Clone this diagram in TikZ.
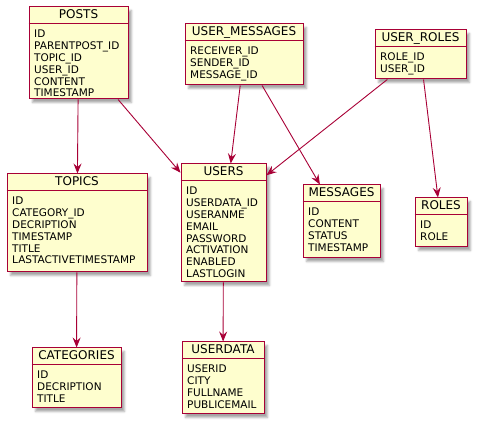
\documentclass[tikz,border=0pt]{standalone}
\usepackage{fontspec}
\setmainfont{DejaVu Sans}
\usepackage{tikz}
\usetikzlibrary{arrows.meta,shadows.blur}
\definecolor{umlred}{HTML}{A80036}
\definecolor{umlfill}{HTML}{FEFECE}
\tikzset{
    entity/.style={draw=umlred, fill=umlfill, line width=1pt, inner sep=0pt,
        blur shadow={shadow xshift=3.5pt, shadow yshift=-3.5pt, shadow blur radius=2pt, shadow opacity=35}},
    headline/.style={draw=umlred, line width=1pt},
    title/.style={anchor=base, inner sep=0pt, font=\fontsize{12}{14}\selectfont},
    fields/.style={anchor=north west, inner sep=0pt, align=left, font=\fontsize{10.5}{11.8}\selectfont},
    rel/.style={draw=umlred, line width=0.9pt, -{Stealth[length=10pt,width=8pt,inset=3.5pt]}}
}
\begin{document}
\begin{tikzpicture}[x=1pt, y=-1pt]
    \useasboundingbox (0,0) rectangle (480,427);

    % entities
    \node (posts) at (78.5,53) [entity, minimum width=99pt, minimum height=92pt]{};
    \node (usermsgs) at (244,54.5) [entity, minimum width=118pt, minimum height=61pt]{};
    \node (userroles) at (420.5,54.5) [entity, minimum width=91pt, minimum height=49pt]{};
    \node (topics) at (77,223) [entity, minimum width=140pt, minimum height=98pt]{};
    \node (users) at (223.5,223) [entity, minimum width=85pt, minimum height=118pt]{};
    \node (messages) at (341.5,221.5) [entity, minimum width=77pt, minimum height=73pt]{};
    \node (roles) at (441,222.5) [entity, minimum width=52pt, minimum height=49pt]{};
    \node (categories) at (76.5,378) [entity, minimum width=89pt, minimum height=60pt]{};
    \node (userdata) at (223,378) [entity, minimum width=82pt, minimum height=72pt]{};

    % header lines
    \draw[headline] ([yshift=-17pt]posts.north west) -- ([yshift=-17pt]posts.north east);
    \draw[headline] ([yshift=-17pt]usermsgs.north west) -- ([yshift=-17pt]usermsgs.north east);
    \draw[headline] ([yshift=-17pt]userroles.north west) -- ([yshift=-17pt]userroles.north east);
    \draw[headline] ([yshift=-17pt]topics.north west) -- ([yshift=-17pt]topics.north east);
    \draw[headline] ([yshift=-17pt]users.north west) -- ([yshift=-17pt]users.north east);
    \draw[headline] ([yshift=-17pt]messages.north west) -- ([yshift=-17pt]messages.north east);
    \draw[headline] ([yshift=-17pt]roles.north west) -- ([yshift=-17pt]roles.north east);
    \draw[headline] ([yshift=-17pt]categories.north west) -- ([yshift=-17pt]categories.north east);
    \draw[headline] ([yshift=-17pt]userdata.north west) -- ([yshift=-17pt]userdata.north east);

    % titles
    \node (poststitle) at ([yshift=-12.5pt]posts.north) [title]{POSTS};
    \node (usermsgstitle) at ([yshift=-12.5pt]usermsgs.north) [title]{USER\_MESSAGES};
    \node (userrolestitle) at ([yshift=-12.5pt]userroles.north) [title]{USER\_ROLES};
    \node (topicstitle) at ([yshift=-12.5pt]topics.north) [title]{TOPICS};
    \node (userstitle) at ([yshift=-12.5pt]users.north) [title]{USERS};
    \node (messagestitle) at ([yshift=-12.5pt]messages.north) [title]{MESSAGES};
    \node (rolestitle) at ([yshift=-12.5pt]roles.north) [title]{ROLES};
    \node (categoriestitle) at ([yshift=-12.5pt]categories.north) [title]{CATEGORIES};
    \node (userdatatitle) at ([yshift=-12.5pt]userdata.north) [title]{USERDATA};

    % fields
    \node (postsfields) at ([xshift=5.5pt,yshift=-23.5pt]posts.north west) [fields]
        {ID\\PARENTPOST\_ID\\TOPIC\_ID\\USER\_ID\\CONTENT\\TIMESTAMP};
    \node (usermsgsfields) at ([xshift=5.5pt,yshift=-23.5pt]usermsgs.north west) [fields]
        {RECEIVER\_ID\\SENDER\_ID\\MESSAGE\_ID};
    \node (userrolesfields) at ([xshift=5.5pt,yshift=-23.5pt]userroles.north west) [fields]
        {ROLE\_ID\\USER\_ID};
    \node (topicsfields) at ([xshift=5.5pt,yshift=-23.5pt]topics.north west) [fields]
        {ID\\CATEGORY\_ID\\DECRIPTION\\TIMESTAMP\\TITLE\\LASTACTIVETIMESTAMP};
    \node (usersfields) at ([xshift=5.5pt,yshift=-23.5pt]users.north west) [fields]
        {ID\\USERDATA\_ID\\USERANME\\EMAIL\\PASSWORD\\ACTIVATION\\ENABLED\\LASTLOGIN};
    \node (messagesfields) at ([xshift=5.5pt,yshift=-23.5pt]messages.north west) [fields]
        {ID\\CONTENT\\STATUS\\TIMESTAMP};
    \node (rolesfields) at ([xshift=5.5pt,yshift=-23.5pt]roles.north west) [fields]
        {ID\\ROLE};
    \node (categoriesfields) at ([xshift=5.5pt,yshift=-23.5pt]categories.north west) [fields]
        {ID\\DECRIPTION\\TITLE};
    \node (userdatafields) at ([xshift=5.5pt,yshift=-23.5pt]userdata.north west) [fields]
        {USERID\\CITY\\FULLNAME\\PUBLICEMAIL};

    % relations
    \draw[rel] (posts) -- (topics);
    \draw[rel] (posts) -- (users);
    \draw[rel] (usermsgs) -- (users);
    \draw[rel] (usermsgs) -- (messages);
    \draw[rel] (userroles.217) -- (users.48);
    \draw[rel] (userroles) -- (roles);
    \draw[rel] (topics) -- (categories);
    \draw[rel] (users) -- (userdata);
\end{tikzpicture}
\end{document}
